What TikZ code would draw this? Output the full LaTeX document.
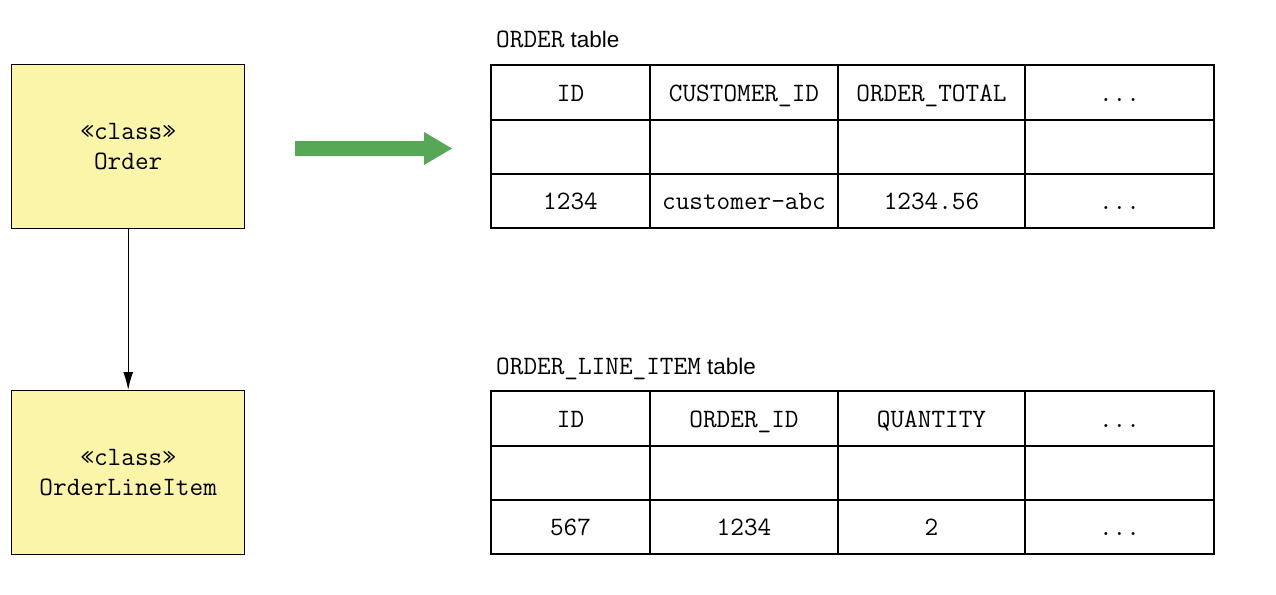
\documentclass[tikz,border=0pt]{standalone}
\usepackage{fontspec}
\setmainfont{Liberation Sans}
\usetikzlibrary{arrows.meta}
\definecolor{classyellow}{RGB}{250,245,168}
\definecolor{arrowgreen}{RGB}{86,168,86}
\tikzset{
  classbox/.style={draw=black, fill=classyellow, line width=1.4pt, minimum width=233pt, minimum height=164pt, inner sep=0pt, align=center, anchor=north west, font=\fontsize{26.5}{30}\selectfont\ttfamily},
  cell/.style={draw=black, line width=1.3pt, inner sep=0pt, outer sep=0pt, anchor=north west, text height=17pt, text depth=0pt, font=\fontsize{26.5}{28}\selectfont\ttfamily},
  tlabel/.style={anchor=base west, inner sep=0pt, font=\fontsize{22.5}{28}\selectfont},
  link/.style={line width=1.3pt, -{Latex[length=18pt,width=10pt]}},
  bigarrow/.style={fill=arrowgreen, draw=none},
}
\newcommand{\tdots}{.\kern0pt.\kern0pt.}
\newcommand{\tblrow}[4]{%
  \foreach \xx/\ww/\txt [count=\cc] in {#4}{%
    \node[cell, minimum width=\ww pt, minimum height=#3 pt] (#1-\cc) at (\xx,#2) {\txt};
  }%
}
\begin{document}
\begin{tikzpicture}[x=1pt,y=-1pt]
\useasboundingbox (0,0) rectangle (1276,594);
% class boxes
\node[classbox] (order) at (11,64) {«class»\\Order};
\node[classbox] (line) at (11,390) {«class»\\OrderLineItem};
\draw[link] (order.south) -- (line.north);
% green arrow
\fill[bigarrow] (295,141) -- (424,141) -- (424,132) -- (452,148.5) -- (424,165) -- (424,156) -- (295,156) -- cycle;
% ORDER table
\node[tlabel] (lab1) at (496,48) {{\fontsize{26.5}{28}\selectfont\ttfamily ORDER} table};
\tblrow{ta1}{65}{55}{491/159/ID, 650/188/CUSTOMER\_ID, 838/187/ORDER\_TOTAL, 1025/189/\tdots}
\tblrow{ta2}{120}{54}{491/159/{}, 650/188/{}, 838/187/{}, 1025/189/{}}
\tblrow{ta3}{174}{54}{491/159/1234, 650/188/customer-abc, 838/187/1234.56, 1025/189/\tdots}
% ORDER_LINE_ITEM table
\node[tlabel] (lab2) at (496,374) {{\fontsize{26.5}{28}\selectfont\ttfamily ORDER\_LINE\_ITEM} table};
\tblrow{tb1}{391}{55}{491/159/ID, 650/188/ORDER\_ID, 838/187/QUANTITY, 1025/189/\tdots}
\tblrow{tb2}{446}{54}{491/159/{}, 650/188/{}, 838/187/{}, 1025/189/{}}
\tblrow{tb3}{500}{54}{491/159/567, 650/188/1234, 838/187/2, 1025/189/\tdots}
\end{tikzpicture}
\end{document}
